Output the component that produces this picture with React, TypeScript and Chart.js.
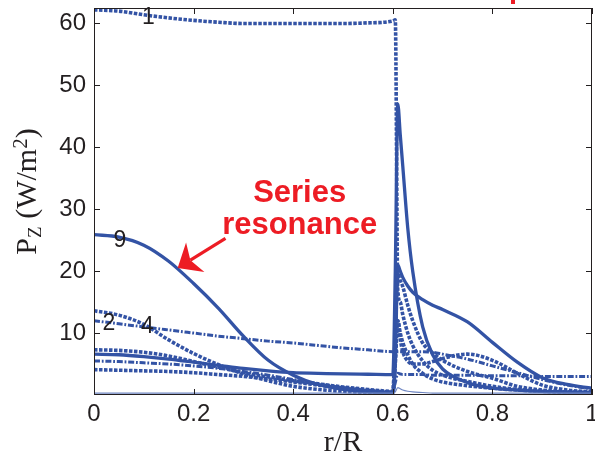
import React, { useEffect, useRef } from 'react';
import { Chart, registerables } from 'chart.js';
Chart.register(...registerables);

// r/R sample grid (fine around the interface at r/R ≈ 0.6)
const r = [0, 0.05, 0.1, 0.15, 0.2, 0.25, 0.3, 0.35, 0.4, 0.45, 0.5, 0.55, 0.6, 0.605, 0.61, 0.615, 0.62, 0.63, 0.64, 0.66, 0.68, 0.7, 0.75, 0.8, 0.85, 0.9, 0.95, 1];

// Pz (W/m^2) per curve
const curve1 = [62.2, 62.0, 61.4, 60.9, 60.5, 60.2, 60.0, 60.0, 60.0, 60.0, 60.0, 60.1, 60.4, 60.6, 17, 15, 13, 10, 8, 5.5, 4, 3.2, 2.2, 1.4, 0.9, 0.6, 0.4, 0.3];
const curve9 = [25.9, 25.5, 24.2, 21.6, 18.0, 14.0, 9.5, 5.6, 3.2, 1.7, 0.9, 0.5, 0.4, 5, 21, 20, 19, 17.6, 16.6, 15.4, 14.5, 13.8, 11.8, 8.5, 5.3, 2.8, 1.7, 1.1];
const curveSpike = [6.6, 6.5, 6.2, 5.8, 5.3, 4.8, 4.3, 3.9, 3.6, 3.5, 3.4, 3.35, 3.3, 20, 47, 42, 37, 27, 20, 11, 6.5, 4.2, 2.0, 1.1, 0.8, 0.6, 0.5, 0.4];
const curve2 = [13.6, 12.9, 11.4, 8.9, 6.7, 4.9, 3.4, 2.3, 1.4, 0.9, 0.6, 0.4, 0.3, 6, 12, 9, 7, 5.5, 5.0, 5.0, 5.4, 5.9, 6.6, 5.6, 3.5, 1.6, 0.8, 0.5];
const curve4 = [12.0, 11.5, 11.0, 10.5, 10.0, 9.5, 9.1, 8.7, 8.4, 8.0, 7.6, 7.3, 7.0, 7.0, 7.0, 7.0, 7.0, 7.0, 7.0, 7.0, 6.9, 6.6, 5.8, 4.7, 3.6, 2.5, 1.6, 1.0];
const curveC = [7.3, 7.2, 6.9, 6.3, 5.4, 4.5, 3.6, 2.9, 2.3, 1.8, 1.3, 0.9, 0.6, 10, 19.5, 18.5, 17.5, 14.5, 12, 8.4, 6.8, 5.6, 3.8, 2.7, 1.4, 0.8, 0.5, 0.4];
const curveD = [5.5, 5.4, 5.2, 5.0, 4.7, 4.3, 3.8, 3.2, 2.5, 1.8, 1.2, 0.8, 0.5, 2.0, 3.5, 3.4, 3.3, 3.3, 3.3, 3.3, 3.2, 3.2, 3.2, 3.1, 3.1, 3.0, 3.0, 3.0];
const curveE = [4.1, 4.0, 3.9, 3.8, 3.6, 3.3, 3.0, 2.6, 2.1, 1.6, 1.1, 0.7, 0.4, 5, 12, 10, 8.5, 6.5, 5, 3.5, 2.6, 2.1, 1.5, 1.1, 0.8, 0.6, 0.5, 0.4];
const curveF = [0.3, 0.3, 0.3, 0.3, 0.3, 0.3, 0.3, 0.3, 0.3, 0.3, 0.3, 0.3, 0.3, 0.5, 1.2, 1.0, 0.8, 0.6, 0.5, 0.4, 0.3, 0.3, 0.3, 0.3, 0.3, 0.3, 0.3, 0.3];

const xTicks = [0, 0.2, 0.4, 0.6, 0.8, 1];
const yTicks = [10, 20, 30, 40, 50, 60];

const curveLabels = ['1', '9', '2', '4'];
const curveLabelAt = [[0.109, 61.0], [0.052, 24.9], [0.03, 11.6], [0.107, 11.0]];
const noteLines = ['Series', 'resonance'];

const BLUE = '#3353A5';
const INK = '#231F20';
const RED = '#ED1C24';
const SANS = '"Liberation Sans", Arial, sans-serif';
const SERIF = '"Liberation Serif", "Times New Roman", serif';

const DOT = [3.5, 1.5];
const DASHDOT = [6, 1.8, 1.8, 1.8];

const ds = (vals: number[], style: 'solid' | 'dot' | 'dashdot' | 'thin') => ({
  data: r.map((x, i) => ({ x, y: vals[i] })),
  borderColor: style === 'thin' ? '#6F86C2' : BLUE,
  borderWidth: style === 'thin' ? 1.2 : style === 'solid' ? 3.3 : style === 'dot' ? 3.6 : 3.0,
  borderDash: style === 'dot' ? DOT : style === 'dashdot' ? DASHDOT : [],
  borderCapStyle: 'butt' as const,
  pointRadius: 0,
  fill: false,
  cubicInterpolationMode: 'monotone' as const,
});

const framePlugin = {
  id: 'frame',
  afterDraw(chart: any) {
    const { ctx, chartArea: a, scales } = chart;
    const xs = scales.x;
    const ys = scales.y;
    ctx.save();
    // box
    ctx.strokeStyle = INK;
    ctx.lineWidth = 1;
    ctx.setLineDash([]);
    ctx.strokeRect(a.left + 0.5, a.top + 0.5, a.right - a.left - 1, a.bottom - a.top - 1);
    // inward ticks on all sides
    const tl = 6;
    ctx.beginPath();
    xTicks.forEach((v) => {
      const px = Math.round(xs.getPixelForValue(v)) + 0.5;
      ctx.moveTo(px, a.bottom);
      ctx.lineTo(px, a.bottom - tl);
      ctx.moveTo(px, a.top);
      ctx.lineTo(px, a.top + tl);
    });
    yTicks.forEach((v) => {
      const py = Math.round(ys.getPixelForValue(v)) + 0.5;
      ctx.moveTo(a.left, py);
      ctx.lineTo(a.left + tl, py);
      ctx.moveTo(a.right, py);
      ctx.lineTo(a.right - tl, py);
    });
    ctx.stroke();

    // curve labels
    ctx.fillStyle = INK;
    ctx.font = `23px ${SANS}`;
    ctx.textAlign = 'center';
    ctx.textBaseline = 'middle';
    curveLabels.forEach((t, i) => {
      const [lx, ly] = curveLabelAt[i];
      ctx.fillText(t, xs.getPixelForValue(lx), ys.getPixelForValue(ly));
    });

    // red annotation
    ctx.fillStyle = RED;
    ctx.font = `bold 31px ${SANS}`;
    ctx.textBaseline = 'alphabetic';
    const nx = xs.getPixelForValue(0.413);
    ctx.fillText(noteLines[0], nx, ys.getPixelForValue(31.2));
    ctx.fillText(noteLines[1], nx, ys.getPixelForValue(26.0));

    // arrow
    const tx = xs.getPixelForValue(0.264), ty = ys.getPixelForValue(25.3);
    const hx = xs.getPixelForValue(0.168), hy = ys.getPixelForValue(20.5);
    const ang = Math.atan2(ty - hy, tx - hx);
    const L = 27, spread = (40 * Math.PI) / 180;
    const c1x = hx + L * Math.cos(ang - spread), c1y = hy + L * Math.sin(ang - spread);
    const c2x = hx + L * Math.cos(ang + spread), c2y = hy + L * Math.sin(ang + spread);
    const nxp = hx + 15 * Math.cos(ang), nyp = hy + 15 * Math.sin(ang);
    ctx.strokeStyle = RED;
    ctx.lineWidth = 3.2;
    ctx.beginPath();
    ctx.moveTo(tx, ty);
    ctx.lineTo(nxp, nyp);
    ctx.stroke();
    ctx.beginPath();
    ctx.moveTo(hx, hy);
    ctx.lineTo(c1x, c1y);
    ctx.lineTo(nxp, nyp);
    ctx.lineTo(c2x, c2y);
    ctx.closePath();
    ctx.fill();

    // small red fragment at the top edge (cut-off mark)
    ctx.fillRect(511, 0, 4, 4);

    // x title
    ctx.fillStyle = INK;
    ctx.textAlign = 'center';
    ctx.textBaseline = 'alphabetic';
    ctx.font = `30px ${SERIF}`;
    ctx.fillText('r/R', (a.left + a.right) / 2, 451);

    // y title: P_Z (W/m^2)
    const big = `30px ${SERIF}`;
    const small = `19px ${SERIF}`;
    const sup = `21px ${SERIF}`;
    const parts: [string, string, number][] = [
      ['P', big, 0],
      ['Z', small, 5],
      [' (W/m', big, 0],
      ['2', sup, -9],
      [')', big, 0],
    ];
    let total = 0;
    parts.forEach(([t, f]) => {
      ctx.font = f;
      total += ctx.measureText(t).width;
    });
    ctx.translate(36, 191.5 + total / 2);
    ctx.rotate(-Math.PI / 2);
    ctx.textAlign = 'left';
    let x = 0;
    parts.forEach(([t, f, dy]) => {
      ctx.font = f;
      ctx.fillText(t, x, dy);
      x += ctx.measureText(t).width;
    });
    ctx.restore();
  },
};

export default function App() {
  const ref = useRef<HTMLCanvasElement | null>(null);
  useEffect(() => {
    document.body.style.margin = '0';
    const canvas = ref.current!;
    const chart = new Chart(canvas, {
      type: 'line',
      data: {
        datasets: [
          ds(curveF, 'thin'),
          ds(curveE, 'dot'),
          ds(curveD, 'dashdot'),
          ds(curveC, 'dot'),
          ds(curve4, 'dashdot'),
          ds(curve2, 'dot'),
          ds(curveSpike, 'solid'),
          ds(curve9, 'solid'),
          ds(curve1, 'dot'),
        ],
      },
      options: {
        animation: false,
        responsive: false,
        devicePixelRatio: 1,
        layout: { padding: { top: 8, right: 3, left: 0, bottom: 0 } },
        plugins: { legend: { display: false }, tooltip: { enabled: false } },
        events: [],
        scales: {
          x: {
            type: 'linear',
            min: 0,
            max: 1,
            grid: { display: false, drawTicks: false },
            border: { display: false },
            afterBuildTicks: (s: any) => {
              s.ticks = xTicks.map((v) => ({ value: v }));
            },
            afterFit: (s: any) => {
              s.height = 60;
              s.paddingLeft = 0;
              s.paddingRight = 0;
            },
            ticks: {
              autoSkip: false,
              maxRotation: 0,
              padding: 5,
              color: INK,
              font: { family: SANS, size: 24 },
              callback: (v: any) => String(v),
            },
          },
          y: {
            type: 'linear',
            min: 0,
            max: 62.5,
            grid: { display: false, drawTicks: false },
            border: { display: false },
            afterBuildTicks: (s: any) => {
              s.ticks = yTicks.map((v) => ({ value: v }));
            },
            afterFit: (s: any) => {
              s.width = 94;
              s.paddingTop = 0;
              s.paddingBottom = 0;
            },
            ticks: {
              padding: 8,
              color: INK,
              font: { family: SANS, size: 24 },
              callback: (v: any) => String(v),
            },
          },
        },
      },
      plugins: [framePlugin],
    });
    return () => chart.destroy();
  }, []);
  return (
    <div style={{ width: 595, height: 455 }}>
      <canvas ref={ref} width={595} height={455} style={{ width: 595, height: 455, display: 'block' }} />
    </div>
  );
}
